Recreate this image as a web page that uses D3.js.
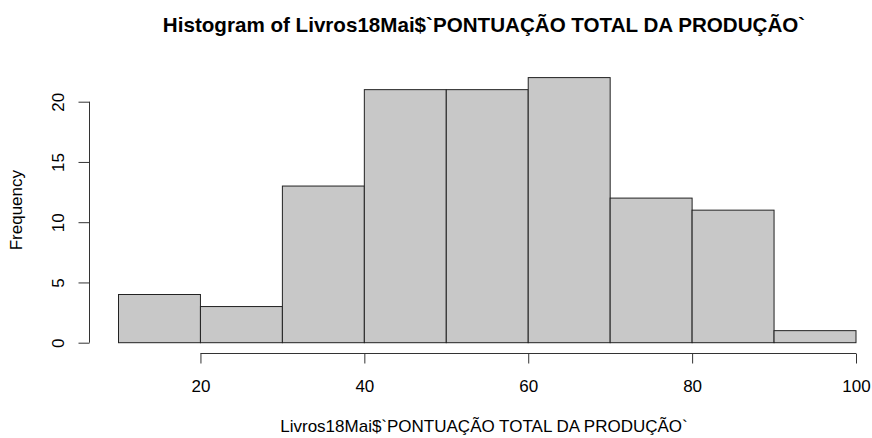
<!DOCTYPE html>
<html>
<head>
<meta charset="utf-8">
<script src="https://cdn.jsdelivr.net/npm/d3@7"></script>
<style>
  body { margin: 0; background: #fff; }
  text { font-family: "Liberation Sans", Arial, sans-serif; fill: #000; }
</style>
</head>
<body>
<div id="content"></div>
<script>
// histogram data
var binStarts = [10, 20, 30, 40, 50, 60, 70, 80, 90];
var binWidth = 10;
var counts = [4, 3, 13, 21, 21, 22, 12, 11, 1];
var xTicks = [20, 40, 60, 80, 100];
var yTicks = [0, 5, 10, 15, 20];

var titleText = "Histogram of Livros18Mai$`PONTUAÇÃO TOTAL DA PRODUÇÃO`";
var xLabel = "Livros18Mai$`PONTUAÇÃO TOTAL DA PRODUÇÃO`";
var yLabel = "Frequency";

var width = 872, height = 438;
var labelFont = "17px";

var svg = d3.select("#content").append("svg")
  .attr("width", width)
  .attr("height", height);

// scales
var x = d3.scaleLinear().domain([10, 100]).range([118.5, 856]);
var y = d3.scaleLinear().domain([0, 20]).range([342.7, 101.7]);

// bars
svg.selectAll("rect.bar")
  .data(binStarts)
  .enter().append("rect")
  .attr("class", "bar")
  .attr("x", function(d) { return x(d); })
  .attr("y", function(d, i) { return y(counts[i]); })
  .attr("width", function(d) { return x(d + binWidth) - x(d); })
  .attr("height", function(d, i) { return y(0) - y(counts[i]); })
  .attr("fill", "#c8c8c8")
  .attr("stroke", "#222")
  .attr("stroke-width", 1);

// x axis (R style: line spans ticks only)
var xAxis = svg.append("g")
  .attr("transform", "translate(0,353.5)")
  .call(d3.axisBottom(x).tickValues(xTicks).tickSize(10).tickSizeOuter(0));
xAxis.select(".domain")
  .attr("d", "M" + x(xTicks[0]) + ",0H" + x(xTicks[xTicks.length - 1]));
xAxis.selectAll("text")
  .attr("y", 38.5).attr("dy", null)
  .style("font-size", labelFont)
  .style("font-family", "Liberation Sans, Arial, sans-serif");
xAxis.selectAll("line, path").attr("stroke", "#333");

// y axis
var yAxis = svg.append("g")
  .attr("transform", "translate(89.5,0)")
  .call(d3.axisLeft(y).tickValues(yTicks).tickSize(11).tickSizeOuter(0));
yAxis.select(".domain")
  .attr("d", "M0," + y(yTicks[0]) + "V" + y(yTicks[yTicks.length - 1]));
yAxis.selectAll("line, path").attr("stroke", "#333");
yAxis.selectAll("text")
  .style("font-size", labelFont)
  .style("font-family", "Liberation Sans, Arial, sans-serif")
  .attr("x", null).attr("dy", null)
  .attr("text-anchor", "middle")
  .attr("transform", "translate(-25.5,0) rotate(-90)");

// title
svg.append("text")
  .attr("x", 484)
  .attr("y", 32)
  .attr("text-anchor", "middle")
  .style("font-size", "20.6px")
  .style("font-weight", "bold")
  .text(titleText);

// axis labels
svg.append("text")
  .attr("x", 484)
  .attr("y", 432)
  .attr("text-anchor", "middle")
  .style("font-size", labelFont)
  .text(xLabel);

svg.append("text")
  .attr("transform", "translate(22," + y(11) + ") rotate(-90)")
  .attr("text-anchor", "middle")
  .style("font-size", labelFont)
  .text(yLabel);
</script>
</body>
</html>
